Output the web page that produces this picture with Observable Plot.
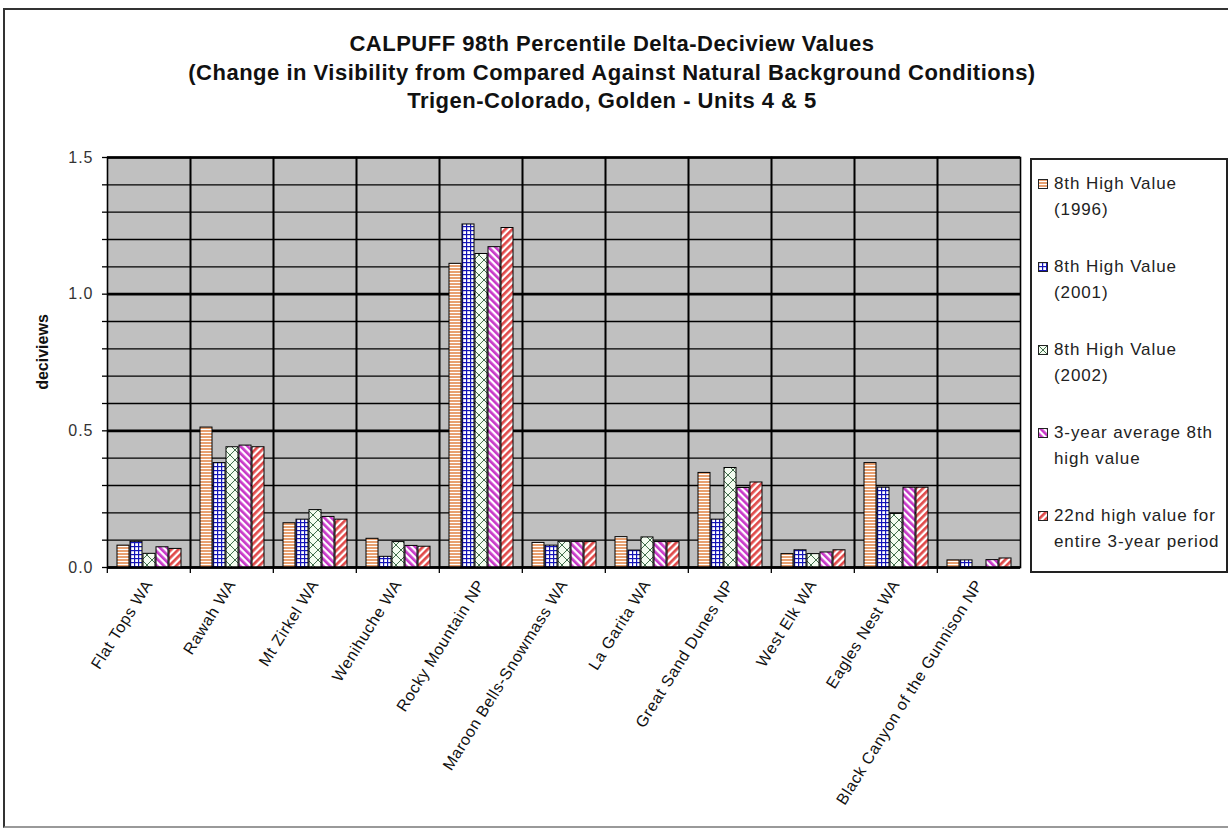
<!DOCTYPE html>
<html>
<head>
<meta charset="utf-8">
<script src="https://cdn.jsdelivr.net/npm/d3@7"></script>
<script src="https://cdn.jsdelivr.net/npm/@observablehq/plot@0.6"></script>
<style>
  html, body { margin: 0; padding: 0; background: #fff; }
  body { width: 1228px; height: 828px; position: relative; overflow: hidden; font-family: Arial, "Liberation Sans", sans-serif; }
  #frame { position: absolute; left: 3px; top: 8px; width: 1240px; height: 816px; border-left: 2px solid #333; border-top: 2px solid #333; border-bottom: 2px solid #999; }
  #title { position: absolute; left: 0; top: 30px; width: 1224px; text-align: center; font-weight: bold; font-size: 22px; letter-spacing: 0.5px; line-height: 28.5px; color: #111; }
  #chart { position: absolute; left: 0; top: 130px; }
  #ylabel { position: absolute; left: 43px; top: 352px; transform: translate(-50%, -50%) rotate(-90deg); font-weight: bold; font-size: 16px; color: #111; white-space: nowrap; }
  #legend { position: absolute; left: 1030px; top: 158px; width: 194px; height: 411px; border: 2px solid #222; background: #fff; }
  .item { position: absolute; left: 6px; }
  .item svg { position: absolute; left: 0; top: 8px; }
  .item div { position: absolute; left: 16px; top: 0; width: 180px; font-size: 17px; line-height: 26px; letter-spacing: 0.9px; color: #222; white-space: nowrap; }
  #chart [aria-label="fx-axis tick label"] text { letter-spacing: 0.6px; }
  #chart [aria-label="y-axis tick label"] text { letter-spacing: 1px; }
</style>
</head>
<body>
<svg width="0" height="0" style="position:absolute">
  <defs>
    <pattern id="p0" patternUnits="userSpaceOnUse" width="4" height="3">
      <rect width="4" height="3" fill="#ffffff"/>
      <rect width="4" height="2" fill="#E8A070"/>
    </pattern>
    <pattern id="p1" patternUnits="userSpaceOnUse" width="4" height="4">
      <rect width="4" height="4" fill="#ffffff"/>
      <rect width="4" height="1.2" fill="#1414B8"/>
      <rect width="1.2" height="4" fill="#1414B8"/>
    </pattern>
    <pattern id="p2" patternUnits="userSpaceOnUse" width="10" height="10">
      <rect width="10" height="10" fill="#F3FCF0"/>
      <path d="M0,0L10,10M10,0L0,10" stroke="#2E5E3A" stroke-width="0.9"/>
    </pattern>
    <pattern id="p3" patternUnits="userSpaceOnUse" width="5" height="5" patternTransform="rotate(-45)">
      <rect width="5" height="5" fill="#ffffff"/>
      <rect width="2.7" height="5" fill="#C838C8"/>
    </pattern>
    <pattern id="p4" patternUnits="userSpaceOnUse" width="5" height="5" patternTransform="rotate(45)">
      <rect width="5" height="5" fill="#ffffff"/>
      <rect width="2.7" height="5" fill="#E04A4A"/>
    </pattern>
  </defs>
</svg>
<div id="frame"></div>
<div id="title">CALPUFF 98th Percentile Delta-Deciview Values<br>(Change in Visibility from Compared Against Natural Background Conditions)<br>Trigen-Colorado, Golden - Units 4 &amp; 5</div>
<div id="chart"></div>
<div id="ylabel">deciviews</div>
<div id="legend"></div>
<script>
const categories = ["Flat Tops WA", "Rawah WA", "Mt Zirkel WA", "Wenihuche WA", "Rocky Mountain NP",
  "Maroon Bells-Snowmass WA", "La Garita WA", "Great Sand Dunes NP", "West Elk WA", "Eagles Nest WA",
  "Black Canyon of the Gunnison NP"];
const seriesNames = ["8th High Value (1996)", "8th High Value (2001)", "8th High Value (2002)",
  "3-year average 8th high value", "22nd high value for entire 3-year period"];
const legendLines = [["8th High Value", "(1996)"], ["8th High Value", "(2001)"], ["8th High Value", "(2002)"],
  ["3-year average 8th", "high value"], ["22nd high value for", "entire 3-year period"]];
const v1996 = [0.080, 0.512, 0.162, 0.105, 1.111, 0.090, 0.111, 0.346, 0.049, 0.382, 0.026];
const v2001 = [0.094, 0.382, 0.175, 0.039, 1.255, 0.080, 0.062, 0.175, 0.063, 0.292, 0.026];
const v2002 = [0.050, 0.440, 0.210, 0.093, 1.147, 0.094, 0.110, 0.364, 0.049, 0.196, null];
const vAvg  = [0.074, 0.446, 0.185, 0.079, 1.172, 0.093, 0.093, 0.291, 0.055, 0.292, 0.027];
const v22nd = [0.068, 0.440, 0.175, 0.076, 1.242, 0.093, 0.093, 0.311, 0.063, 0.292, 0.033];
const yTickLabels = [0.0, 0.5, 1.0, 1.5];
const yMinorTicks = [0, 0.1, 0.2, 0.3, 0.4, 0.5, 0.6, 0.7, 0.8, 0.9, 1.0, 1.1, 1.2, 1.3, 1.4, 1.5];
const patternFills = ["url(#p0)", "url(#p1)", "url(#p2)", "url(#p3)", "url(#p4)"];

const seriesValues = [v1996, v2001, v2002, vAvg, v22nd];
const rows = categories.flatMap((c, i) => seriesNames.map((s, j) => ({category: c, series: s, value: seriesValues[j][i]})))
  .filter(d => d.value != null);

const W = 1028, H = 698, mL = 105, mR = 6, mT = 27, mB = 261;
const step = (W - mL - mR) / categories.length;

const chart = Plot.plot({
  width: W, height: H,
  marginLeft: mL, marginRight: mR, marginTop: mT, marginBottom: mB,
  style: {fontFamily: "Arial, 'Liberation Sans', sans-serif", color: "#222", background: "transparent", overflow: "visible"},
  fx: {domain: categories, padding: 0, label: null},
  x: {domain: seriesNames, paddingInner: 0.08, paddingOuter: 0.7, axis: null},
  y: {domain: [0, 1.5], axis: null},
  color: {type: "ordinal", domain: seriesNames, range: patternFills},
  marks: [
    Plot.frame({fill: "#C0C0C0"}),
    Plot.gridY(yMinorTicks, {stroke: "#000", strokeOpacity: 1, strokeWidth: 1.3}),
    Plot.gridY(yTickLabels, {stroke: "#000", strokeOpacity: 1, strokeWidth: 2.6}),
    Plot.frame({stroke: "#000", strokeWidth: 1.6}),
    Plot.barY(rows, {fx: "category", x: "series", y: "value", fill: "series", stroke: "#000", strokeWidth: 1}),
    Plot.ruleY([0], {stroke: "#000", strokeWidth: 2}),
    Plot.axisY({ticks: yMinorTicks, tickFormat: () => "", tickSize: 5, label: null, stroke: "#000", strokeWidth: 1.3}),
    Plot.axisY({ticks: yTickLabels, tickFormat: d3.format(".1f"), tickSize: 0, tickPadding: 14, label: null, fontSize: 16, fill: "#333"}),
    Plot.axisFx({anchor: "bottom", tickFormat: () => "", tickSize: 6, dx: -step / 2, label: null, stroke: "#000", strokeWidth: 1.3}),
    Plot.axisFx({anchor: "bottom", tickRotate: -58, tickSize: 0, tickPadding: 14, label: null, fontSize: 16, fill: "#111"})
  ]
});
document.getElementById("chart").appendChild(chart);

const legend = document.getElementById("legend");
seriesNames.forEach((s, i) => {
  const item = document.createElement("div");
  item.className = "item";
  item.style.top = (11 + 83 * i) + "px";
  item.innerHTML = `<svg width="10" height="10"><rect x="0.5" y="0.5" width="9" height="9" fill="${patternFills[i]}" stroke="#222" stroke-width="1"/></svg><div>${legendLines[i][0]}<br>${legendLines[i][1]}</div>`;
  legend.appendChild(item);
});
</script>
</body>
</html>
